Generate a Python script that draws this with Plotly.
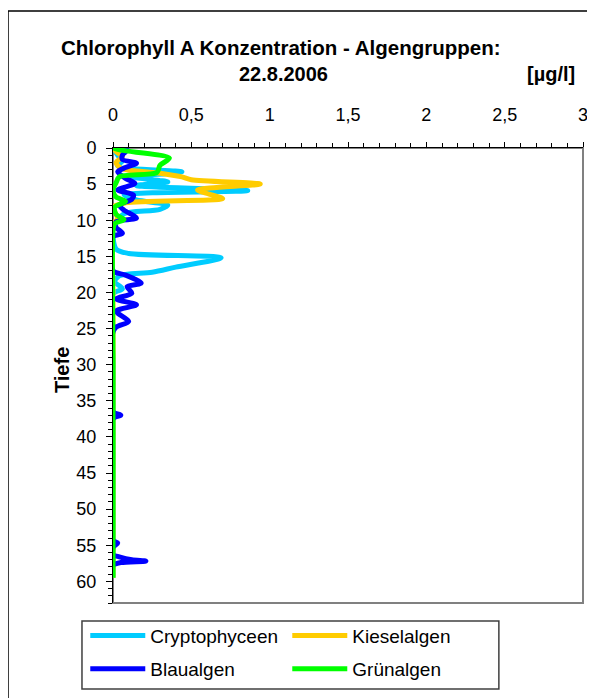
import plotly.graph_objects as go

# depth [m] / concentration [µg/l]
crypto_depth = [0, 1.0, 1.8, 2.5, 3.3, 4.0, 4.7, 5.2, 5.9, 6.5, 7.2, 7.9, 8.5, 9.1, 10.0, 11.0,
                14.0, 14.6, 15.2, 16.5, 17.2, 17.7, 18.5, 19.5, 20.2, 30, 45, 59.5]
crypto_val = [0.0, 0.03, 0.06, 0.03, 0.44, 0.12, 0.35, 0.15, 0.86, 0.07, 0.15, 0.35, 0.30, 0.07, 0.03, 0.0,
              0.02, 0.10, 0.69, 0.40, 0.25, 0.04, 0.01, 0.06, 0.0, 0.0, 0.0, 0.0]

kiesel_depth = [0, 0.5, 1.2, 2.0, 2.8, 3.5, 4.0, 4.4, 5.0, 5.8, 6.3, 7.0, 7.6, 8.2, 9.8, 10.5,
                20, 40, 59.5]
kiesel_val = [0.0, 0.02, 0.06, 0.02, 0.05, 0.30, 0.44, 0.50, 0.94, 0.54, 0.60, 0.70, 0.08, 0.0, 0.03, 0.0,
              0.0, 0.0, 0.0]

blau_depth = [0, 0.3, 1.0, 1.6, 2.1, 2.7, 3.3, 4.2, 4.9, 5.8, 6.5, 7.1, 7.9, 8.6, 9.7, 10.2,
              11.0, 11.8, 12.3, 17.0, 17.6, 18.7, 19.2, 20.1, 20.9, 21.7, 22.6, 24.0, 24.8, 25.5,
              36.5, 37.0, 37.5, 54.3, 54.7, 55.3, 56.3, 56.6, 57.0, 57.2, 57.4, 57.7]
blau_val = [0.05, 0.09, 0.06, 0.06, 0.15, 0.08, 0.03, 0.08, 0.14, 0.03, 0.13, 0.12, 0.04, 0.07, 0.15, 0.02,
            0.02, 0.06, 0.0, 0.0, 0.08, 0.18, 0.09, 0.12, 0.02, 0.15, 0.02, 0.10, 0.02, 0.0,
            0.0, 0.05, 0.0, 0.0, 0.03, 0.0, 0.0, 0.04, 0.12, 0.21, 0.05, 0.0]

gruen_depth = [0, 0.3, 1.4, 2.4, 3.4, 4.0, 4.8, 5.8, 6.8, 7.4, 8.2, 9.2, 9.9, 10.5, 11.5, 30, 59.5]
gruen_val = [0.0, 0.05, 0.36, 0.30, 0.28, 0.04, 0.02, 0.0, 0.02, 0.08, 0.01, 0.02, 0.07, 0.01, 0.0, 0.0, 0.0]

series = [
    ("Cryptophyceen", crypto_depth, crypto_val, "#00CCFF", "legend"),
    ("Kieselalgen", kiesel_depth, kiesel_val, "#FFCC00", "legend"),
    ("Blaualgen", blau_depth, blau_val, "#0000FF", "legend2"),
    ("Grünalgen", gruen_depth, gruen_val, "#00FF00", "legend2"),
]

FONT = "Arial, Liberation Sans, sans-serif"

fig = go.Figure()
for name, d, v, col, leg in series:
    fig.add_trace(go.Scatter(
        x=v, y=d, name=name, mode="lines", legend=leg,
        line=dict(color=col, width=5, shape="spline", smoothing=0.8),
    ))

fig.update_xaxes(
    side="top", range=[0, 3], dtick=0.5, tick0=0,
    ticks="outside", ticklen=5, tickcolor="black",
    minor=dict(dtick=0.1, ticks="outside", ticklen=4, tickcolor="black"),
    showline=True, linecolor="black", linewidth=1,
    showgrid=False, zeroline=False,
    tickfont=dict(size=18, color="black", family=FONT),
    ticklabelstandoff=14,
)
fig.update_yaxes(
    range=[63, 0], dtick=5, tick0=0,
    ticks="outside", ticklen=6, tickcolor="black",
    minor=dict(dtick=1, ticks="outside", ticklen=4, tickcolor="black"),
    showline=True, linecolor="black", linewidth=1,
    showgrid=False, zeroline=False,
    tickfont=dict(size=18, color="black", family=FONT),
    ticklabelstandoff=6,
)

legend_style = dict(
    orientation="h", xanchor="left", yanchor="middle",
    bgcolor="rgba(0,0,0,0)", borderwidth=0,
    font=dict(size=19, color="black", family=FONT),
    entrywidth=132, itemwidth=55,
)

# the page body has an 8px margin, so the margins are reduced by 8 on the left/top
fig.update_layout(
    width=595, height=698,
    margin=dict(l=105, r=20, t=140, b=103, autoexpand=False),
    paper_bgcolor="white", plot_bgcolor="white",
    separators=",.",
    showlegend=True,
    legend=dict(x=-0.059, y=-0.072, **legend_style),
    legend2=dict(x=-0.059, y=-0.145, **legend_style),
    shapes=[
        # plot area frame
        dict(type="rect", xref="paper", yref="paper", x0=0, x1=1, y0=0, y1=1,
             line=dict(color="#808080", width=2), layer="below"),
        # legend frame
        dict(type="rect", xref="paper", yref="paper", x0=-0.066, x1=0.821, y0=-0.0396, y1=-0.189,
             line=dict(color="#404040", width=1.5)),
        # outer chart frame
        dict(type="rect", xref="paper", yref="paper", x0=-0.2234, x1=1.05, y0=-0.25, y1=1.3011,
             line=dict(color="black", width=1.5)),
    ],
    annotations=[
        dict(text="<b>Chlorophyll A Konzentration - Algengruppen:</b>", xref="paper", yref="paper",
             x=0.357, y=1.2198, showarrow=False, xanchor="center", yanchor="middle",
             font=dict(size=20.5, color="black", family=FONT)),
        dict(text="<b>22.8.2006</b>", xref="paper", yref="paper",
             x=0.362, y=1.1626, showarrow=False, xanchor="center", yanchor="middle",
             font=dict(size=20, color="black", family=FONT)),
        dict(text="<b>[µg/l]</b>", xref="paper", yref="paper",
             x=0.932, y=1.1626, showarrow=False, xanchor="center", yanchor="middle",
             font=dict(size=20, color="black", family=FONT)),
        dict(text="<b>Tiefe</b>", xref="paper", yref="paper",
             x=-0.1085, y=0.512, showarrow=False, xanchor="center", yanchor="middle",
             textangle=-90, font=dict(size=20, color="black", family=FONT)),
    ],
)

fig.write_html("out.html")
